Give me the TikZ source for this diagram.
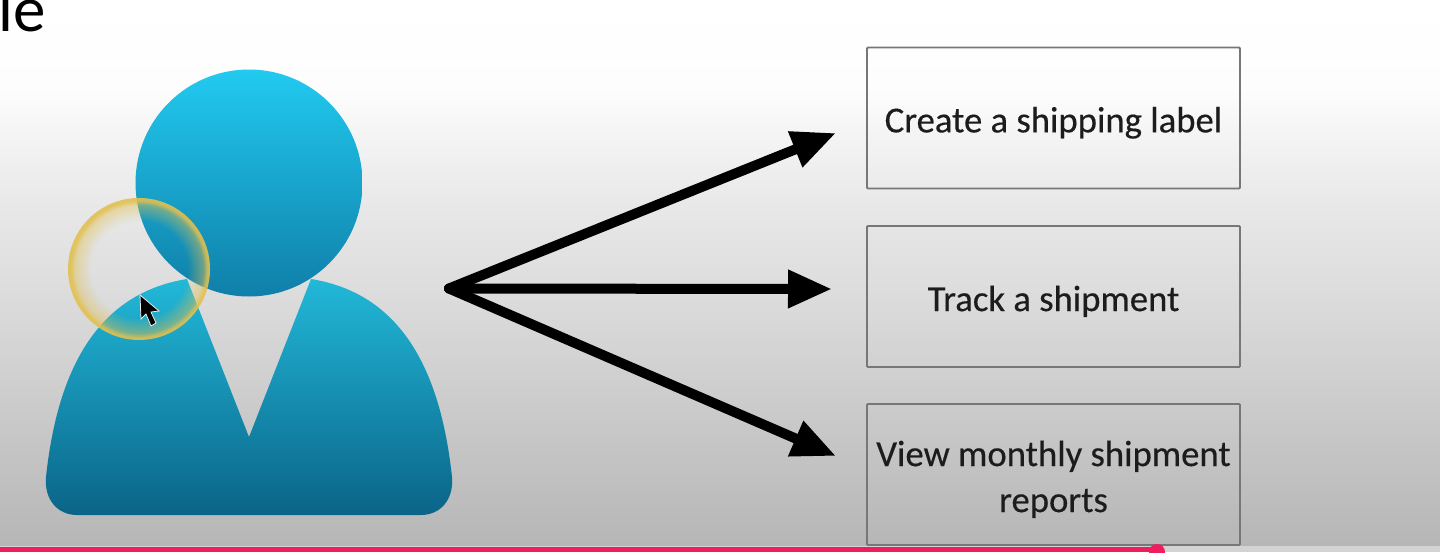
\documentclass[tikz,border=0pt]{standalone}
\usepackage{fontspec}
\setmainfont{Carlito}
\newfontfamily\boxfont[FakeBold=0.35]{Carlito}
\usetikzlibrary{arrows.meta,fadings,shadings}
\definecolor{bg0}{HTML}{FEFFFE}
\definecolor{bg0b}{HTML}{FCFDFC}
\definecolor{bg1}{HTML}{F4F5F4}
\definecolor{bg1b}{HTML}{E8E9E8}
\definecolor{bg2}{HTML}{DCDDDC}
\definecolor{bg3}{HTML}{B6B6B6}
\definecolor{headtop}{HTML}{22CAF0}
\definecolor{headbot}{HTML}{0F7FA8}
\definecolor{bodytop}{HTML}{22B8D8}
\definecolor{bodybot}{HTML}{0A6488}
\definecolor{ringc}{HTML}{E2C050}
\definecolor{boxline}{HTML}{777777}
\definecolor{txt}{HTML}{1C1C1C}
\definecolor{barc}{HTML}{F01C5E}
\pgfdeclareverticalshading{bgshade}{100bp}{color(0bp)=(bg3); color(25bp)=(bg3); color(48.6bp)=(bg2); color(56.7bp)=(bg1b); color(63.1bp)=(bg1); color(66.8bp)=(bg0b); color(75bp)=(bg0); color(100bp)=(bg0)}
\pgfdeclareradialshading{ringsh}{\pgfpointorigin}{color(0bp)=(black); color(17bp)=(black); color(22.5bp)=(gray); color(24bp)=(white); color(25bp)=(white); color(50bp)=(white)}
\pgfdeclarefading{ringf}{\pgfuseshading{ringsh}}
\newcommand{\downstrut}{\rule{0pt}{35pt}}
\tikzset{
  x=1pt,y=-1pt,
  optionbox/.style={draw=boxline,line width=1.8pt,rounded corners=1pt,minimum width=373pt,minimum height=141pt,align=center,text=txt,font=\fontsize{36.7}{46}\boxfont,inner sep=0pt},
  flow/.style={line width=10pt,black,line cap=round,-{Triangle[length=44pt,width=36pt]}},
}
\begin{document}
\begin{tikzpicture}
\useasboundingbox (0,0) rectangle (1440,552);
\shade[shading=bgshade] (0,0) rectangle (1440,546);
\fill[bg3!60!white] (0,546) rectangle (1440,552);
\begin{scope}
\clip (0,0) rectangle (1440,552);
\node[anchor=base west,inner sep=0pt,font=\fontsize{65}{65}\selectfont,text=black] (title) at (-2,31) {le};
\end{scope}
% person
\path[top color=bodytop,bottom color=bodybot] (187,279)
  .. controls (100,293) and (58,365) .. (46,477)
  .. controls (44,500) and (58,515) .. (77,515)
  -- (421,515)
  .. controls (440,515) and (454,500) .. (452,477)
  .. controls (440,365) and (398,293) .. (311,279)
  -- (249,437) -- cycle;
\path[top color=headtop,bottom color=headbot] (249,183) circle (113.5);
% highlight
\fill[ringc,path fading=ringf,fill opacity=.9] (139,269) circle (71);
% cursor
\fill[black,draw=white!85!gray,line width=.8pt] (140,295) -- (141,319) -- (146,314) -- (151,326) -- (156,323) -- (151,312) -- (159,311) -- cycle;
% boxes
\node[optionbox] (b1) at (1053.5,118) {\downstrut Create a shipping label};
\node[optionbox] (b2) at (1053.5,296.5) {\downstrut Track a shipment};
\node[optionbox] (b3) at (1053.5,474.5) {\downstrut View monthly shipment\\reports};
\coordinate (hub) at (449,288.5);
\coordinate (t1) at (836,133);
\coordinate (t2) at (832,289);
\coordinate (t3) at (836,456);
\draw[flow] (hub) -- (t1);
\draw[flow] (hub) -- (t2);
\draw[flow] (hub) -- (t3);
% progress bar
\fill[barc] (0,547) rectangle (1157,552);
\fill[barc] (1157,552) circle (8);
\end{tikzpicture}
\end{document}
